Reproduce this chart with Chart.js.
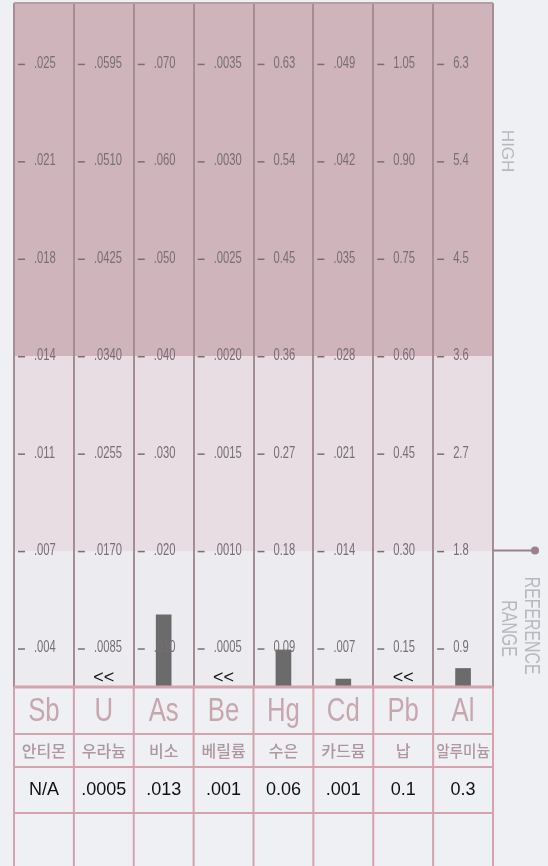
<!DOCTYPE html>
<html>
<head>
<meta charset="utf-8">
<script src="https://cdn.jsdelivr.net/npm/chart.js@4.4.1/dist/chart.umd.min.js"></script>
<style>
  html, body { margin: 0; padding: 0; background: #eef0f3; }
  #wrap { width: 548px; height: 866px; position: relative; }
</style>
</head>
<body>
<div id="wrap"><canvas id="mineralChart"></canvas></div>
<script>
const elements = ['Sb', 'U', 'As', 'Be', 'Hg', 'Cd', 'Pb', 'Al'];
const koreanNames = ['안티몬', '우라늄', '비소', '베릴륨', '수은', '카드뮴', '납', '알루미늄'];
const resultLabels = ['N/A', '.0005', '.013', '.001', '0.06', '.001', '0.1', '0.3'];
const results = [null, 0.0005, 0.013, 0.001, 0.06, 0.001, 0.1, 0.3];
const belowRange = [false, true, false, true, false, false, true, false];

// tick labels of each column, bottom row first
const tickSb = ['.004', '.007', '.011', '.014', '.018', '.021', '.025'];
const tickU = ['.0085', '.0170', '.0255', '.0340', '.0425', '.0510', '.0595'];
const tickAs = ['.010', '.020', '.030', '.040', '.050', '.060', '.070'];
const tickBe = ['.0005', '.0010', '.0015', '.0020', '.0025', '.0030', '.0035'];
const tickHg = ['0.09', '0.18', '0.27', '0.36', '0.45', '0.54', '0.63'];
const tickCd = ['.007', '.014', '.021', '.028', '.035', '.042', '.049'];
const tickPb = ['0.15', '0.30', '0.45', '0.60', '0.75', '0.90', '1.05'];
const tickAl = ['0.9', '1.8', '2.7', '3.6', '4.5', '5.4', '6.3'];
const columnTicks = [tickSb, tickU, tickAs, tickBe, tickHg, tickCd, tickPb, tickAl];

// zones in tick-row units (row 0 = bottom tick row)
const rowMin = -0.4;
const rowMax = 6.62;
const lowZone = [rowMin, 1];
const referenceZone = [1, 3];
const highZone = [3, rowMax];

// bar height = result relative to the bottom tick of its column
const barRatios = results.map((v, i) => (v === null || belowRange[i]) ? null : v / parseFloat(columnTicks[i][0]));

function squeezeText(ctx, text, px, py, scale, align) {
  ctx.save();
  ctx.translate(px, py);
  ctx.scale(scale, 1);
  ctx.textAlign = align;
  ctx.fillText(text, 0, 0);
  ctx.restore();
}

function sideText(ctx, text, px, py, scale) {
  ctx.save();
  ctx.translate(px, py);
  ctx.rotate(Math.PI / 2);
  ctx.scale(scale, 1);
  ctx.textAlign = 'center';
  ctx.textBaseline = 'middle';
  ctx.fillText(text, 0, 0);
  ctx.restore();
}

const sheetPlugin = {
  id: 'sheet',
  afterDraw(chart) {
    const ctx = chart.ctx;
    const area = chart.chartArea;
    const x = chart.scales.x;
    const y = chart.scales.y;
    const half = (x.getPixelForValue(1) - x.getPixelForValue(0)) / 2;
    const tableTop = area.bottom;
    ctx.save();

    // top edge of frame
    ctx.strokeStyle = '#b39ea4';
    ctx.lineWidth = 2;
    ctx.beginPath();
    ctx.moveTo(area.left, area.top);
    ctx.lineTo(area.right, area.top);
    ctx.stroke();

    // column tick marks and labels
    ctx.fillStyle = '#776f74';
    ctx.strokeStyle = '#776f74';
    ctx.lineWidth = 1.5;
    ctx.font = '16px "Liberation Sans", Arial, sans-serif';
    ctx.textBaseline = 'middle';
    columnTicks.forEach((ticks, i) => {
      const left = x.getPixelForValue(i) - half;
      ticks.forEach((label, k) => {
        const py = y.getPixelForValue(k);
        ctx.beginPath();
        ctx.moveTo(left + 4, py + 1);
        ctx.lineTo(left + 11, py + 1);
        ctx.stroke();
        squeezeText(ctx, label, left + 20, py, 0.7, 'left');
      });
    });

    // below-range markers
    ctx.fillStyle = '#111';
    ctx.font = '18px "Liberation Sans", Arial, sans-serif';
    belowRange.forEach((low, i) => {
      if (low) squeezeText(ctx, '<<', x.getPixelForValue(i), tableTop - 9, 1, 'center');
    });

    // table below the chart
    const rowLines = [tableTop, tableTop + 47, tableTop + 80, tableTop + 126];
    ctx.strokeStyle = '#d4a3ad';
    rowLines.forEach((ly, r) => {
      ctx.lineWidth = r === 0 ? 3 : 2;
      ctx.beginPath();
      ctx.moveTo(area.left, ly);
      ctx.lineTo(area.right, ly);
      ctx.stroke();
    });
    ctx.lineWidth = 2;
    for (let i = 0; i <= elements.length; i++) {
      const px = x.getPixelForValue(i - 0.5);
      ctx.beginPath();
      ctx.moveTo(px, tableTop);
      ctx.lineTo(px, chart.height);
      ctx.stroke();
    }

    elements.forEach((sym, i) => {
      const cx = x.getPixelForValue(i);
      ctx.fillStyle = '#c8a6ad';
      ctx.font = '33px "Liberation Sans", Arial, sans-serif';
      squeezeText(ctx, sym, cx, tableTop + 25, 0.78, 'center');

      ctx.fillStyle = '#ae979e';
      ctx.font = '500 16px "Noto Sans CJK KR", sans-serif';
      const w = ctx.measureText(koreanNames[i]).width;
      const fit = Math.min(1, (half * 2 - 6) / w);
      squeezeText(ctx, koreanNames[i], cx, tableTop + 64, fit, 'center');

      ctx.fillStyle = '#111';
      ctx.font = '18px "Liberation Sans", Arial, sans-serif';
      squeezeText(ctx, resultLabels[i], cx, tableTop + 103, 1, 'center');
    });

    // side notes
    ctx.fillStyle = '#b9b8be';
    ctx.font = '17px "Liberation Sans", Arial, sans-serif';
    sideText(ctx, 'HIGH', area.right + 14, y.getPixelForValue(5.1), 1);
    ctx.font = '22px "Liberation Sans", Arial, sans-serif';
    sideText(ctx, 'REFERENCE', area.right + 38, y.getPixelForValue(0.23), 0.72);
    sideText(ctx, 'RANGE', area.right + 15, y.getPixelForValue(0.2), 0.72);

    const refY = y.getPixelForValue(referenceZone[0]);
    ctx.strokeStyle = '#9c8189';
    ctx.fillStyle = '#9c8189';
    ctx.lineWidth = 2;
    ctx.beginPath();
    ctx.moveTo(area.right, refY);
    ctx.lineTo(area.right + 42, refY);
    ctx.stroke();
    ctx.beginPath();
    ctx.arc(area.right + 42, refY, 4, 0, Math.PI * 2);
    ctx.fill();

    ctx.restore();
  }
};

const zoneStyle = { type: 'bar', yAxisID: 'y', grouped: false, barPercentage: 1, categoryPercentage: 1, borderWidth: 0 };

const ctx = document.getElementById('mineralChart').getContext('2d');
const mineralChart = new Chart(ctx, {
  type: 'bar',
  data: {
    labels: elements,
    datasets: [
      {
        label: 'Result',
        data: barRatios,
        yAxisID: 'yBar',
        grouped: false,
        barThickness: 15,
        backgroundColor: '#6b6b6b',
        order: 0
      },
      Object.assign({ label: 'High', data: elements.map(() => highZone), backgroundColor: '#cfb5bb', order: 3 }, zoneStyle),
      Object.assign({ label: 'Reference', data: elements.map(() => referenceZone), backgroundColor: '#e8dde2', order: 3 }, zoneStyle),
      Object.assign({ label: 'Low', data: elements.map(() => lowZone), backgroundColor: '#ecebef', order: 3 }, zoneStyle)
    ]
  },
  options: {
    responsive: true,
    maintainAspectRatio: false,
    animation: false,
    layout: { padding: { left: 14, right: 55, top: 3, bottom: 179 } },
    plugins: { legend: { display: false }, tooltip: { enabled: false } },
    scales: {
      x: {
        offset: true,
        ticks: { display: false },
        border: { display: false },
        grid: { offset: true, drawTicks: false, color: '#a58d94', lineWidth: 2, z: 1 }
      },
      y: { display: false, min: rowMin, max: rowMax },
      yBar: { display: false, min: 0, max: 12.3 }
    }
  },
  plugins: [sheetPlugin]
});
</script>
</body>
</html>
